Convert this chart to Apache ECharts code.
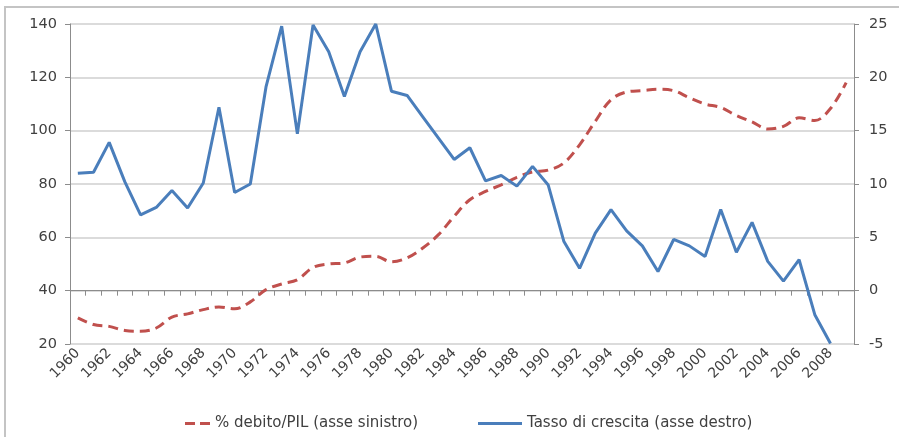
<!DOCTYPE html>
<html>
<head>
<meta charset="utf-8">
<script src="https://cdn.jsdelivr.net/npm/echarts@6/dist/echarts.min.js"></script>
<style>
  html, body { margin: 0; padding: 0; background: #fff; }
  #frame { position: absolute; left: 4px; top: 6px; width: 1000px; height: 1000px;
           border: 2px solid #c4c4c4; box-sizing: border-box; }
  #chart { position: absolute; left: 0; top: 0; width: 899px; height: 437px; }
</style>
</head>
<body>
<div id="frame"></div>
<div id="chart"></div>
<script>
// Years on the category axis
const years = [];
for (let y = 1960; y <= 2009; y++) years.push(String(y));

// Debt as % of GDP (left axis)
const debtPil = [29.8, 27.3, 26.6, 25.1, 24.8, 26.0, 30.1, 31.3, 32.9, 33.9,
                 33.2, 35.8, 40.4, 42.5, 44.1, 48.7, 50.0, 50.4, 52.6, 52.9,
                 50.8, 52.3, 56.0, 61.0, 67.9, 74.1, 77.2, 79.7, 82.5, 84.5,
                 85.2, 87.9, 94.7, 103.5, 111.6, 114.5, 115.0, 115.5, 115.0, 112.3,
                 110.0, 108.7, 105.7, 103.3, 100.6, 101.6, 104.8, 103.8, 108.3, 118.0];

// Growth rate (right axis)
const tassoCrescita = [11.0, 11.1, 13.9, 10.2, 7.1, 7.8, 9.4, 7.75, 10.1, 17.2,
                       9.2, 10.0, 19.1, 24.8, 14.7, 24.9, 22.4, 18.2, 22.4, 25.0,
                       18.7, 18.3, 16.3, 14.3, 12.3, 13.4, 10.3, 10.8, 9.8, 11.65,
                       9.9, 4.6, 2.1, 5.4, 7.6, 5.6, 4.2, 1.8, 4.8, 4.2,
                       3.2, 7.6, 3.6, 6.4, 2.75, 0.9, 2.9, -2.25, -4.95, null];

const leftTicks = { min: 20, max: 140, interval: 20 };
const rightTicks = { min: -5, max: 25, interval: 5 };

const nameDebt = '% debito/PIL (asse sinistro)';
const nameGrowth = 'Tasso di crescita (asse destro)';

const red = '#c0504d';
const blue = '#4a7ebb';
const textColor = '#404040';
const axisColor = '#8c8c8c';
const gridColor = '#cfcfcf';
const font = 'DejaVu Sans';

const legendText = { fontFamily: font, fontSize: 15, color: textColor };

const chart = echarts.init(document.getElementById('chart'), null, { renderer: 'canvas' });
chart.setOption({
  animation: false,
  backgroundColor: 'transparent',
  grid: { left: 70, right: 45, top: 24, bottom: 93, containLabel: false },
  legend: [
    {
      left: 180, top: 411,
      itemWidth: 25, itemHeight: 3, itemGap: 8,
      textStyle: legendText,
      data: [{ name: nameDebt, icon: 'path://M0,0h10v3h-10z M15,0h10v3h-10z' }]
    },
    {
      left: 473, top: 411,
      itemWidth: 44, itemHeight: 3, itemGap: 8,
      textStyle: legendText,
      data: [{ name: nameGrowth, icon: 'rect' }]
    }
  ],
  xAxis: {
    type: 'category',
    data: years,
    boundaryGap: true,
    axisLine: { lineStyle: { color: axisColor, width: 1 } },
    axisTick: { show: true, length: 5, interval: 0, lineStyle: { color: axisColor } },
    axisLabel: {
      interval: 1, rotate: 45, margin: 7,
      fontFamily: font, fontSize: 14, color: textColor
    },
    splitLine: { show: false }
  },
  yAxis: [
    {
      type: 'value',
      position: 'left',
      min: leftTicks.min, max: leftTicks.max, interval: leftTicks.interval,
      axisLine: { show: true, lineStyle: { color: axisColor } },
      axisTick: { show: true, length: 5, lineStyle: { color: axisColor } },
      axisLabel: { margin: 13, fontFamily: font, fontSize: 14.5, color: textColor },
      splitLine: { show: true, lineStyle: { color: gridColor, width: 1.5 } }
    },
    {
      type: 'value',
      position: 'right',
      min: rightTicks.min, max: rightTicks.max, interval: rightTicks.interval,
      axisLine: { show: true, lineStyle: { color: axisColor } },
      axisTick: { show: true, length: 5, lineStyle: { color: axisColor } },
      axisLabel: { margin: 15, fontFamily: font, fontSize: 14.5, color: textColor },
      splitLine: { show: false }
    }
  ],
  series: [
    {
      name: nameDebt,
      type: 'line',
      yAxisIndex: 0,
      data: debtPil,
      smooth: 0.35,
      symbol: 'none',
      itemStyle: { color: red },
      lineStyle: { color: red, width: 3, type: [10, 6] },
      z: 2
    },
    {
      name: nameGrowth,
      type: 'line',
      yAxisIndex: 1,
      data: tassoCrescita,
      symbol: 'none',
      itemStyle: { color: blue },
      lineStyle: { color: blue, width: 3 },
      z: 3
    }
  ]
});
</script>
</body>
</html>
